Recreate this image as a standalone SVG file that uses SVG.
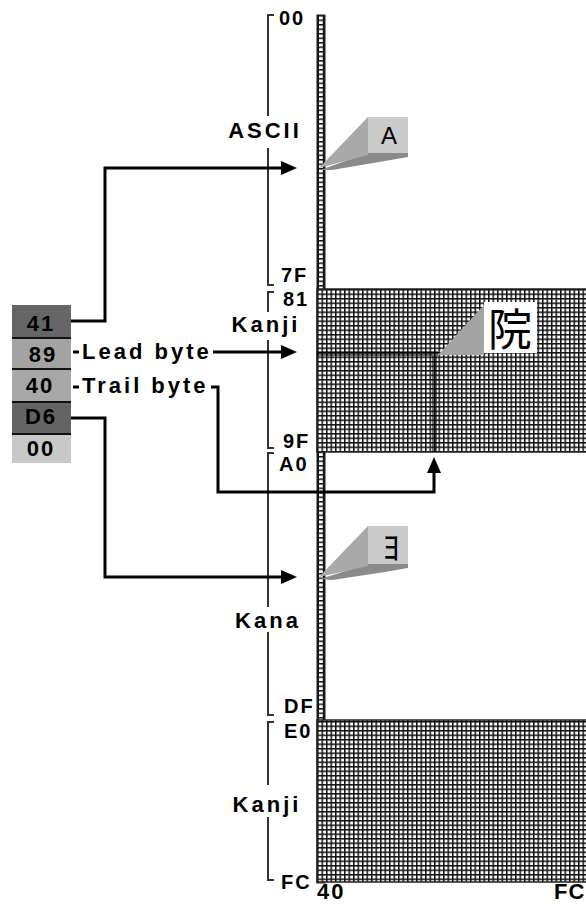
<svg xmlns="http://www.w3.org/2000/svg" width="586" height="904" viewBox="0 0 586 904">
<style>
.t{font-family:"Liberation Sans",Arial,sans-serif;font-weight:bold;font-size:22px;fill:#000;letter-spacing:2px}
.h{font-family:"Liberation Sans",Arial,sans-serif;font-weight:bold;font-size:20px;fill:#000;letter-spacing:2px}
.lab{font-family:"Liberation Sans",Arial,sans-serif;font-weight:bold;font-size:22px;fill:#000;letter-spacing:3px}
.bk{fill:none;stroke:#333;stroke-width:2}
.con{fill:none;stroke:#000;stroke-width:3}
.cjk{font-family:"Noto Sans CJK JP","Noto Sans CJK SC",sans-serif;fill:#000}
</style>
<defs>
<marker id="ah" markerUnits="userSpaceOnUse" markerWidth="16" markerHeight="14" refX="9" refY="7" orient="auto" overflow="visible">
<path d="M0,0 L16,7 L0,14 z" fill="#000"/>
</marker>
<pattern id="grid" x="317" y="289" width="4.5" height="4.5" patternUnits="userSpaceOnUse">
<rect width="4.5" height="4.5" fill="#111"/>
<rect x="1.5" y="1.5" width="3" height="3" fill="#fff"/>
</pattern>
<pattern id="strip" x="317" y="15" width="8" height="4.5" patternUnits="userSpaceOnUse">
<rect width="8" height="4.5" fill="#111"/>
<rect x="2" y="1.5" width="3.8" height="3" fill="#fff"/>
</pattern>
</defs>
<rect width="586" height="904" fill="#fff"/>

<g id="code-table">
<rect x="317" y="15" width="8" height="868" fill="url(#strip)" stroke="#222" stroke-width="1"/>
<rect x="317" y="289" width="270" height="163" fill="url(#grid)" stroke="#222" stroke-width="1.5"/>
<rect x="317" y="720" width="270" height="162" fill="url(#grid)" stroke="#222" stroke-width="1.5"/>
<rect x="317" y="351" width="121" height="5" fill="#000" opacity="0.55"/>
<rect x="432" y="356" width="5" height="96" fill="#000" opacity="0.55"/>
</g>

<g id="range-ascii">
<path class="bk" d="M274,15 H268 V116 M268,148 V285 H274"/>
<text class="h" x="279" y="25">00</text>
<text class="h" x="281" y="282">7F</text>
<text class="lab" x="265" y="138" text-anchor="middle">ASCII</text>
</g>
<g id="range-kanji1">
<path class="bk" d="M274,292 H268 V312 M268,340 V448 H274"/>
<text class="h" x="283" y="306">81</text>
<text class="h" x="283" y="448">9F</text>
<text class="lab" x="266" y="332" text-anchor="middle">Kanji</text>
</g>
<g id="range-kana">
<path class="bk" d="M274,453 H268 V607 M268,632 V715 H274"/>
<text class="h" x="279" y="471">A0</text>
<text class="h" x="284" y="713">DF</text>
<text class="lab" x="268" y="628" text-anchor="middle">Kana</text>
</g>
<g id="range-kanji2">
<path class="bk" d="M274,722 H268 V785 M268,817 V880 H274"/>
<text class="h" x="284" y="738">E0</text>
<text class="h" x="281" y="889">FC</text>
<text class="lab" x="267" y="812" text-anchor="middle">Kanji</text>
</g>
<g id="axis-labels">
<text class="t" x="317" y="899">40</text>
<text class="t" x="554" y="899" style="letter-spacing:1px">FC</text>
</g>

<g id="byte-41"><rect x="12" y="305" width="59" height="33" fill="#666"/><text class="t" x="41" y="331" text-anchor="middle">41</text></g>
<g id="byte-89"><rect x="12" y="338" width="59" height="31" fill="#a3a3a3"/><text class="t" x="43" y="362" text-anchor="middle">89</text></g>
<g id="byte-40"><rect x="12" y="369" width="59" height="33" fill="#a8a8a8"/><text class="t" x="40" y="393" text-anchor="middle">40</text></g>
<g id="byte-D6"><rect x="12" y="402" width="59" height="32" fill="#646464"/><text class="t" x="41" y="424" text-anchor="middle">D6</text></g>
<g id="byte-00"><rect x="12" y="434" width="59" height="29" fill="#c8c8c8"/><text class="t" x="41" y="456" text-anchor="middle">00</text></g>
<g id="byte-separators" stroke="#111" stroke-width="2">
<line x1="12" y1="338" x2="71" y2="338"/><line x1="12" y1="369" x2="71" y2="369"/><line x1="12" y1="402" x2="71" y2="402"/><line x1="12" y1="434" x2="71" y2="434"/>
</g>

<g id="label-lead"><text class="lab" x="82" y="359">Lead byte</text></g>
<g id="label-trail"><text class="lab" x="82" y="393">Trail byte</text></g>

<g id="callout-A">
<polygon points="320,170 368,153 408,153 408,157 385,161 332,170" fill="#8a8a8a"/>
<polygon points="319,168 368,117 368,155" fill="#a9a9a9"/>
<rect x="368" y="117" width="40" height="36" fill="#cacaca"/>
<text x="389" y="144" text-anchor="middle" style="font-family:'Liberation Sans',Arial,sans-serif;font-size:24px">A</text>
</g>
<g id="callout-kanji">
<polygon points="438,355 484,305 484,355" fill="#a3a3a3"/>
<rect x="484" y="302" width="53" height="51" fill="#fff"/>
<text class="cjk" x="510" y="346" text-anchor="middle" font-size="44">院</text>
</g>
<g id="callout-kana">
<polygon points="320,579 368,564 408,564 408,568 385,572 332,580" fill="#8a8a8a"/>
<polygon points="319,577 368,526 368,566" fill="#a9a9a9"/>
<rect x="368" y="526" width="40" height="38" fill="#cacaca"/>
<text class="cjk" x="391" y="560" text-anchor="middle" font-size="34">ﾖ</text>
</g>

<g id="connectors">
<path class="con" d="M71,321 H105 V168 H290" marker-end="url(#ah)"/>
<path class="con" d="M73,352 H79"/>
<path class="con" d="M213,352 H290" marker-end="url(#ah)"/>
<path class="con" d="M73,387 H79"/>
<path class="con" d="M211,387 H218 V492 H434 V464" marker-end="url(#ah)"/>
<path class="con" d="M71,418 H105 V577 H290" marker-end="url(#ah)"/>
</g>
</svg>
